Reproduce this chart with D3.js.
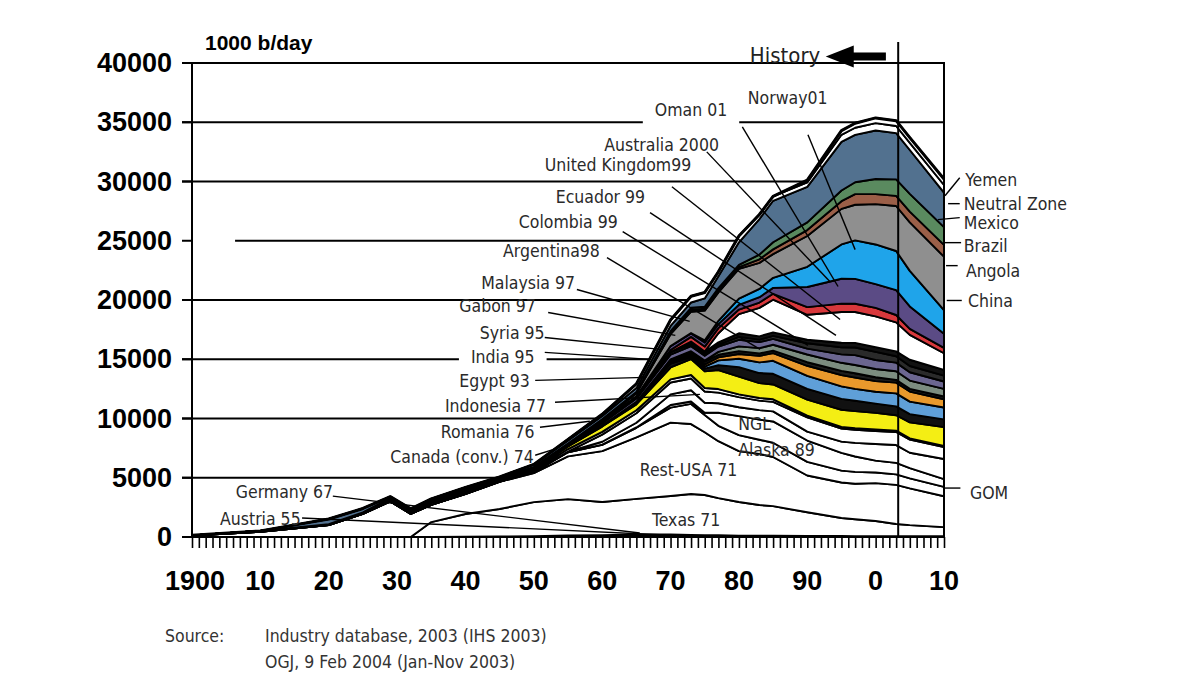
<!DOCTYPE html>
<html>
<head>
<meta charset="utf-8">
<script src="https://cdn.jsdelivr.net/npm/d3@7"></script>
<style>
  body { margin: 0; background: #fff; }
  svg text { font-family: "DejaVu Sans Condensed", "DejaVu Sans", sans-serif; }
</style>
</head>
<body>
<svg id="chart" width="1200" height="675"></svg>
<script>
// production by country, 1000 b/day at these years
const years = [1900,1910,1920,1925,1929,1932,1935,1940,1945,1950,1955,1960,1965,1970,1973,1975,1977,1980,1983,1985,1990,1995,1997,2000,2003,2005,2010];

const austria   = [0,0,0,0,0,0,0,10,20,40,70,50,55,55,40,40,35,30,25,22,20,20,20,18,18,17,15];
const germany   = [0,0,0,0,0,0,0,20,20,25,60,110,160,150,130,120,110,90,80,80,70,60,55,60,60,55,50];
const texas     = [0,0,0,0,0,0,1260,1910,2320,2880,3070,2790,3000,3250,3460,3380,3140,2830,2600,2500,2000,1520,1420,1270,1020,930,770];
const restUsa   = [130,440,1000,1950,3000,1950,1450,1680,2300,2450,3600,4300,5200,6200,5900,5300,4800,4300,4300,4150,3100,3000,3000,3200,3300,3100,2600];
const canada    = [0,5,5,5,5,5,5,15,20,80,350,520,800,1260,1700,1450,1300,1350,1200,1200,1150,1000,1000,900,890,850,800];
const alaska    = [0,0,0,0,0,0,0,0,0,0,0,20,30,220,200,190,1100,1600,1700,1800,1800,1500,1300,1000,970,860,650];
const gom       = [0,0,0,0,0,0,0,0,0,10,50,250,400,900,950,850,800,750,800,850,750,950,1150,1400,1500,1300,1700];
const ngl       = [0,0,0,0,0,0,0,0,0,0,0,600,800,1000,1000,950,900,850,800,800,1200,1100,1100,1100,1100,1100,1000];
const romania   = [5,25,20,45,95,145,165,115,95,100,220,230,250,270,290,295,300,240,230,220,160,140,130,125,115,110,90];
const indonesia = [5,30,50,60,100,100,120,170,20,130,230,450,500,1000,1340,1400,1600,1500,1250,1250,1350,1450,1450,1400,1300,1350,1600];
const egypt     = [0,0,3,3,5,5,4,18,25,45,35,65,130,330,170,240,420,800,850,900,900,920,870,780,750,700,650];
const india     = [0,5,5,5,5,5,5,5,5,5,6,10,60,140,150,170,400,700,900,1100,1100,1050,1000,1000,1100,1050,1000];
const syria     = [0,0,0,0,0,0,0,0,0,0,0,0,0,85,110,190,250,400,550,650,850,950,950,900,900,850,700];
const gabon     = [0,0,0,0,0,0,0,0,0,0,0,15,25,110,150,225,220,250,200,200,300,360,370,330,240,230,230];
const malaysia  = [0,0,0,0,0,0,0,0,0,0,0,0,0,20,90,100,250,400,450,500,650,680,700,690,720,700,650];
const argentina = [0,0,5,15,20,35,40,55,60,65,85,200,270,390,420,400,450,550,520,500,500,715,830,760,730,700,620];
const colombia  = [0,0,0,3,55,45,50,70,63,93,109,152,200,220,185,160,150,250,200,250,450,585,650,690,540,525,500];
const ecuador   = [0,0,0,0,0,0,0,0,0,0,0,0,0,4,210,160,200,300,280,300,300,390,390,395,410,530,480];
const uk        = [0,0,0,0,0,0,0,0,0,0,0,0,0,2,5,30,770,1620,2400,2750,2100,2600,2600,2600,2450,2100,1400];
const australia = [0,0,0,0,0,0,0,0,0,0,0,0,5,175,390,420,430,385,450,500,650,700,700,720,620,500,450];
const oman      = [0,0,0,0,0,0,0,0,0,0,0,0,0,330,290,340,340,400,450,500,1700,2100,2100,2000,2100,1900,1200];
const norway    = [0,0,0,0,0,0,0,0,0,0,0,0,0,0,30,190,280,530,700,850,1700,2900,3250,3350,3300,3000,2000];
const china     = [0,0,0,0,0,0,0,0,0,0,0,100,250,1000,1800,2500,2400,2500,2200,2000,2600,3000,3000,3400,3800,4100,4500];
const angola    = [0,0,0,0,0,0,0,0,0,0,0,0,15,100,160,160,200,150,300,400,500,650,900,850,850,900,1000];
const brazil    = [0,0,0,0,0,0,0,0,1,1,6,80,95,165,170,175,165,190,400,600,650,900,1000,1270,1400,1500,1500];
const mexico    = [0,10,430,320,120,90,110,120,120,200,250,270,320,430,450,700,1000,1900,3000,3500,3000,4100,4000,4100,3900,3700,2900];
const neutral   = [0,0,0,0,0,0,0,0,0,0,100,140,360,500,530,500,370,540,380,380,370,600,600,620,600,600,650];
const yemen     = [0,0,0,0,0,0,0,0,0,0,0,0,0,0,0,0,0,0,0,0,190,350,380,440,450,450,500];

const yTicks = [0,5000,10000,15000,20000,25000,30000,35000,40000];
const xTickYears  = [1900,1910,1920,1930,1940,1950,1960,1970,1980,1990,2000,2010];
const xTickLabels = ["1900","10","20","30","40","50","60","70","80","90","0","10"];
const historyYear = 2003.3;

// stack order, bottom to top, and fill colours
const series = [
  ["Austria", austria, "#111"], ["Germany", germany, "#111"],
  ["Texas", texas, "#fff"], ["Rest-USA", restUsa, "#fff"],
  ["Canada", canada, "#fff"], ["Alaska", alaska, "#fff"],
  ["GOM", gom, "#fff"], ["NGL", ngl, "#fff"], ["Romania", romania, "#fff"],
  ["Indonesia", indonesia, "#f4ee14"], ["Egypt", egypt, "#111"],
  ["India", india, "#5f9fd8"], ["Syria", syria, "#e9992c"],
  ["Gabon", gabon, "#1c1c1c"], ["Malaysia", malaysia, "#7c8d80"],
  ["Argentina", argentina, "#6b6690"], ["Colombia", colombia, "#2a2a2a"],
  ["Ecuador", ecuador, "#111"], ["United Kingdom", uk, "#fff"],
  ["Australia", australia, "#d8383c"], ["Oman", oman, "#5b4b85"],
  ["Norway", norway, "#1fa4ea"], ["China", china, "#8f8f8f"],
  ["Angola", angola, "#9b5f48"], ["Brazil", brazil, "#5a8a5f"],
  ["Mexico", mexico, "#52718f"], ["Neutral Zone", neutral, "#fff"],
  ["Yemen", yemen, "#fff"]
];

const table = years.map((yr, i) => {
  const row = {year: yr};
  series.forEach(s => { row[s[0]] = s[1][i]; });
  return row;
});

const x = d3.scaleLinear().domain([1900, 2010]).range([192, 944]);
const y = d3.scaleLinear().domain([0, 40000]).range([537, 63]);
const svg = d3.select('#chart');

// gridlines (behind the areas)
svg.append('g').selectAll('line')
  .data(yTicks.filter(v => v > 0 && v < 40000))
  .join('line')
  .attr('x1', v => v === 25000 ? x(1906.3) : 182)
  .attr('x2', x(2010))
  .attr('y1', d => y(d)).attr('y2', d => y(d))
  .attr('stroke', '#000').attr('stroke-width', 2);
svg.append('g').selectAll('line').data(yTicks).join('line')
  .attr('x1', 182).attr('x2', x(1900))
  .attr('y1', d => y(d)).attr('y2', d => y(d))
  .attr('stroke', '#000').attr('stroke-width', 2);

const bgLayer = svg.append('g');

// stacked areas
const stack = d3.stack().keys(series.map(s => s[0]));
const stacked = stack(table);
const area = d3.area()
  .x(d => x(d.data.year))
  .y0(d => y(d[0]))
  .y1(d => y(d[1]));

svg.append('g').selectAll('path')
  .data(stacked)
  .join('path')
  .attr('d', area)
  .attr('fill', (d, i) => series[i][2])
  .attr('stroke', '#000')
  .attr('stroke-width', 1.9)
  .attr('stroke-linejoin', 'round');

// heavy outline along the total
const outer = stacked[stacked.length - 1];
svg.append('path')
  .datum(outer)
  .attr('d', d3.line().x(d => x(d.data.year)).y(d => y(d[1])))
  .attr('fill', 'none').attr('stroke', '#000').attr('stroke-width', 3)
  .attr('stroke-linejoin', 'round');

// frame
const frame = svg.append('g').attr('stroke', '#000').attr('stroke-width', 2).attr('fill', 'none');
frame.append('path').attr('d', `M${x(1900)},${y(0)}V${y(40000)}H${x(2010)}V${y(0)}`);
frame.append('line').attr('x1', 182).attr('x2', x(2010)).attr('y1', y(0)).attr('y2', y(0));

// yearly ticks below the axis
const xAxis = svg.append('g')
  .attr('transform', `translate(0,${y(0)})`)
  .call(d3.axisBottom(x).tickValues(d3.range(1900, 2011)).tickSize(11).tickFormat(''));
xAxis.select('.domain').remove();
xAxis.selectAll('line').attr('stroke', '#000').attr('stroke-width', 1.6);

// tick labels
svg.append('g').selectAll('text').data(yTicks).join('text')
  .attr('x', 172).attr('y', d => y(d) + 9)
  .attr('text-anchor', 'end')
  .style('font-family', '"Liberation Sans", Arial, sans-serif')
  .style('font-size', '27px').style('font-weight', 'bold')
  .text(d => d);
svg.append('g').selectAll('text').data(xTickYears).join('text')
  .attr('x', (d, i) => x(d) + (i === 0 ? 3 : 0)).attr('y', 590)
  .attr('text-anchor', 'middle')
  .style('font-family', '"Liberation Sans", Arial, sans-serif')
  .style('font-size', '27px').style('font-weight', 'bold')
  .text((d, i) => xTickLabels[i]);

svg.append('text')
  .attr('x', 205).attr('y', 50)
  .style('font-family', '"Liberation Sans", Arial, sans-serif')
  .style('font-size', '21px').style('font-weight', 'bold')
  .text('1000 b/day');

// history marker
svg.append('line')
  .attr('x1', x(historyYear)).attr('x2', x(historyYear))
  .attr('y1', 42).attr('y2', y(0))
  .attr('stroke', '#000').attr('stroke-width', 2);
svg.append('text')
  .attr('x', x(1981.6)).attr('y', y(40000))
  .style('font-size', '22px').attr('fill', '#222')
  .text('History');
const ay = y(40550), tip = x(1992.7), tail = x(2001.5);
svg.append('rect').attr('x', tip + 26).attr('y', ay - 4).attr('width', tail - tip - 26).attr('height', 8).attr('fill', '#000');
svg.append('path')
  .attr('d', `M${tip},${ay}L${tip + 28},${ay - 11}L${tip + 28},${ay + 11}Z`)
  .attr('fill', '#000');

// country labels: text anchor and leader line, in data units
const labels = [
  {t: "Norway01", at: [1981.3, 36550], to: [[1990.1, 33940], [1997.0, 24250]]},
  {t: "Oman 01", at: [1967.7, 35540], to: [[1980.5, 34610], [1994.5, 21140]], box: true},
  {t: "Australia 2000", at: [1960.3, 32590], to: [[1975.3, 32500], [1993.3, 21560]]},
  {t: "United Kingdom99", at: [1951.6, 30900], to: [[1970.2, 29560], [1994.8, 18360]]},
  {t: "Ecuador 99", at: [1953.2, 28210], to: [[1967.0, 27370], [1994.2, 17010]]},
  {t: "Colombia 99", at: [1947.8, 26100], to: [[1963.0, 25770], [1990.1, 16170]]},
  {t: "Argentina98", at: [1945.5, 23660], to: [[1960.7, 23580], [1983.1, 15830]]},
  {t: "Malaysia 97", at: [1942.3, 20970], to: [[1956.3, 20890], [1972.8, 18190]]},
  {t: "Gabon 97", at: [1939.1, 18950], to: [[1952.1, 18950], [1970.7, 17010]]},
  {t: "Syria 95", at: [1942.1, 16670], to: [[1951.6, 16840], [1968.5, 15830]]},
  {t: "India 95", at: [1940.8, 14650], to: [[1951.6, 15580], [1967.0, 14990]], box: true},
  {t: "Egypt 93", at: [1939.1, 12630], to: [[1950.2, 13220], [1966.3, 13470]]},
  {t: "Indonesia 77", at: [1937.0, 10530], to: [[1953.1, 11370], [1974.3, 12040]]},
  {t: "Romania 76", at: [1936.4, 8340], to: [[1950.9, 9260], [1958.2, 9770]]},
  {t: "Canada (conv.) 74", at: [1929.0, 6230], to: [[1950.2, 6900], [1953.5, 7500]]},
  {t: "Germany 67", at: [1906.4, 3280], to: [[1920.6, 3450], [1965.5, 340]]},
  {t: "Austria 55", at: [1904.1, 1010], to: [[1916.1, 1600], [1969.2, 170]]},
  {t: "Rest-USA 71", at: [1965.5, 5140]},
  {t: "Texas 71", at: [1967.3, 930]},
  {t: "NGL", at: [1979.9, 9010]},
  {t: "Alaska 89", at: [1979.9, 6820]},
  {t: "Yemen", at: [2013.1, 29640], to: [[2010.15, 28800], [2012.3, 30320]]},
  {t: "Neutral Zone", at: [2012.9, 27620], to: [[2010.6, 28130], [2012.3, 28130]]},
  {t: "Mexico", at: [2012.9, 26020], to: [[2009.1, 26780], [2012.3, 26950]]},
  {t: "Brazil", at: [2012.9, 24080], to: [[2010.1, 24840], [2012.5, 24840]]},
  {t: "Angola", at: [2013.2, 21980], to: [[2010.3, 22900], [2012.0, 22900]]},
  {t: "China", at: [2013.5, 19370], to: [[2010.4, 19960], [2012.6, 19960]]},
  {t: "GOM", at: [2013.8, 3200], to: [[2010.0, 4130], [2012.4, 4130]]}
];

svg.append('g').selectAll('line').data(labels.filter(d => d.to)).join('line')
  .attr('x1', d => x(d.to[0][0])).attr('y1', d => y(d.to[0][1]))
  .attr('x2', d => x(d.to[1][0])).attr('y2', d => y(d.to[1][1]))
  .attr('stroke', '#000').attr('stroke-width', 1.4);

const labelText = svg.append('g').selectAll('text').data(labels).join('text')
  .attr('x', d => x(d.at[0])).attr('y', d => y(d.at[1]))
  .style('font-size', '17.5px').attr('fill', '#2a2a2a')
  .text(d => d.t);

labelText.filter(d => d.box).each(function () {
  const b = this.getBBox();
  bgLayer.append('rect')
    .attr('x', b.x - 12).attr('y', b.y - 2)
    .attr('width', b.width + 24).attr('height', b.height + 8)
    .attr('fill', '#fff');
});

// source note
const note = svg.append('g').attr('fill', '#333').style('font-size', '17.5px');
note.append('text').attr('x', 165).attr('y', 642).text('Source:');
note.append('text').attr('x', 265).attr('y', 642).text('Industry database, 2003 (IHS 2003)');
note.append('text').attr('x', 265).attr('y', 668).text('OGJ, 9 Feb 2004 (Jan-Nov 2003)');
</script>
</body>
</html>
